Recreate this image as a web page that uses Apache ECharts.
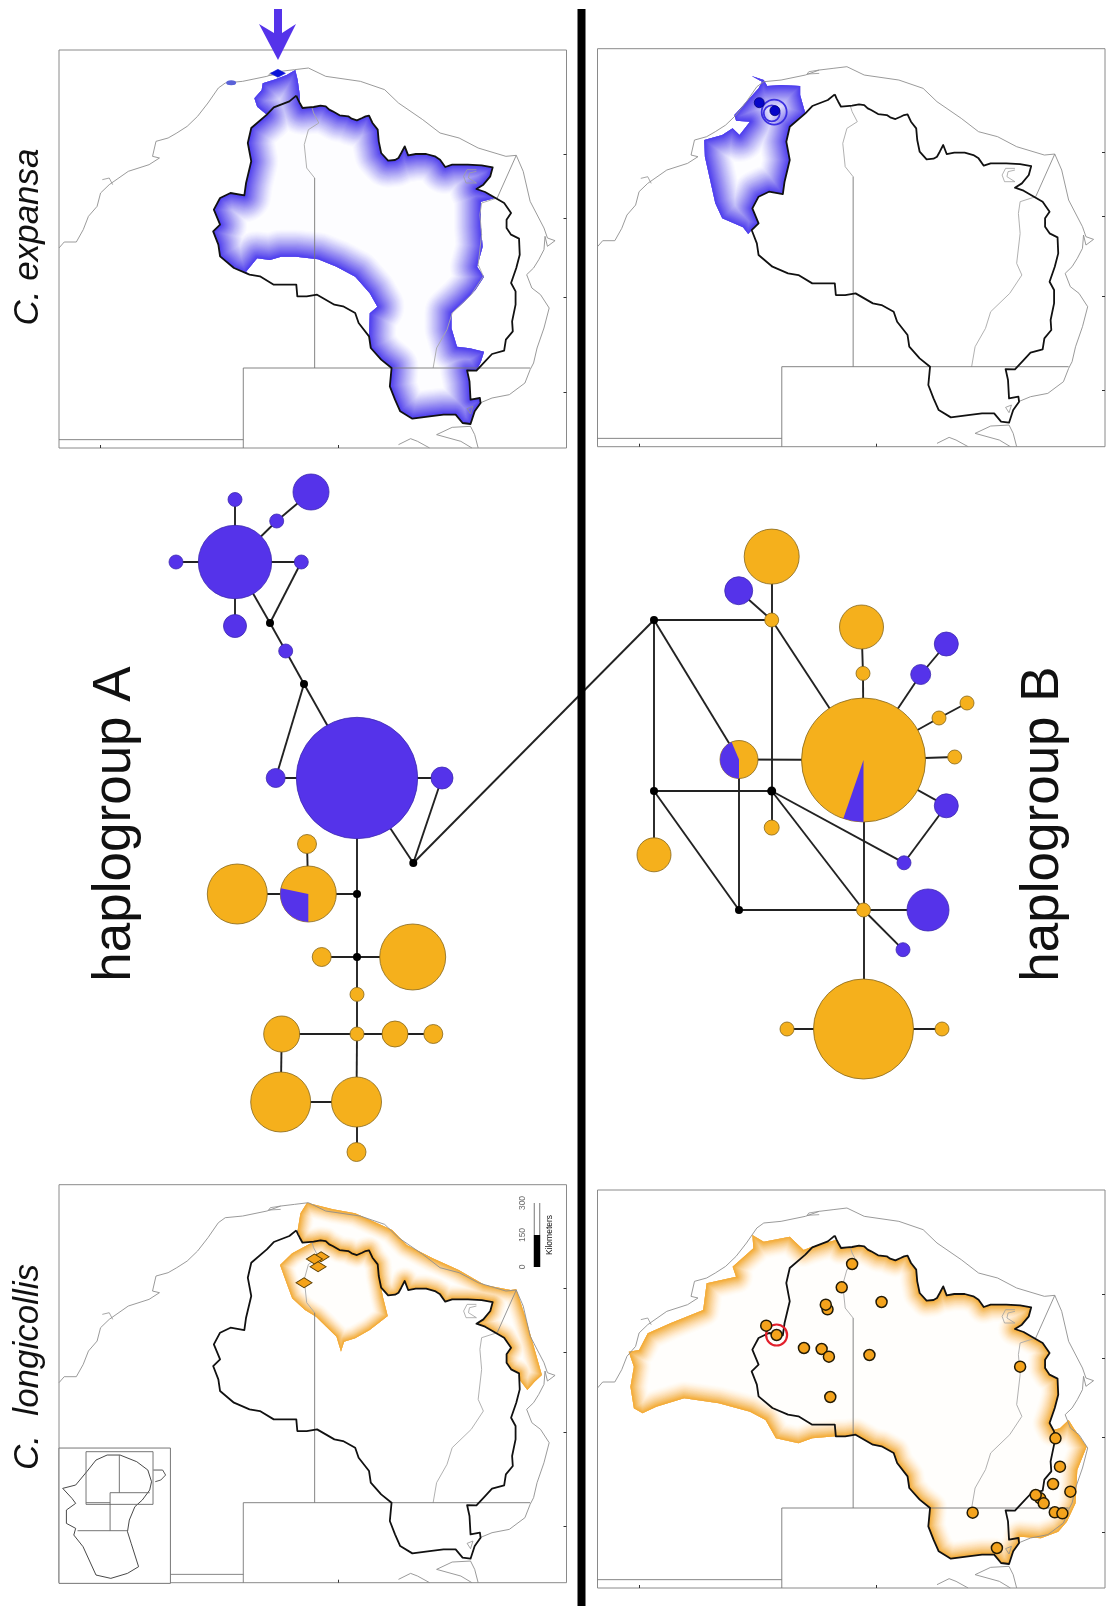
<!DOCTYPE html>
<html><head><meta charset="utf-8">
<script src="https://cdn.jsdelivr.net/npm/echarts@6/dist/echarts.min.js"></script>
<style>html,body{margin:0;padding:0;background:#fff}#c{width:1113px;height:1606px;filter:blur(0.5px)}</style>
</head><body><div id="c"></div>
<script>
// ---------- map geometry (map units) ----------
const basin=[[765,283],[770,295],[775,305],[783,320],[800,318],[815,317],[835,313],[850,315],[860,325],[870,330],[890,342],[915,345],[925,352],[940,357],[955,350],[965,345],[975,343],[985,365],[1000,385],[1003,420],[1010,455],[1030,478],[1050,476],[1060,470],[1068,455],[1078,435],[1088,462],[1110,458],[1140,458],[1165,465],[1180,475],[1195,497],[1215,490],[1260,490],[1300,492],[1332,498],[1325,525],[1305,550],[1285,563],[1310,572],[1340,590],[1365,605],[1385,635],[1372,655],[1372,680],[1385,700],[1408,712],[1410,760],[1400,800],[1385,845],[1398,870],[1398,910],[1388,960],[1390,990],[1370,1015],[1365,1048],[1330,1058],[1310,1080],[1285,1108],[1258,1107],[1265,1140],[1268,1195],[1295,1190],[1297,1205],[1280,1230],[1268,1268],[1245,1265],[1225,1240],[1190,1240],[1150,1245],[1100,1252],[1065,1230],[1050,1195],[1035,1155],[1040,1100],[1010,1075],[980,1040],[975,1005],[945,965],[935,935],[900,915],[875,910],[825,880],[795,885],[768,885],[765,850],[730,850],[700,850],[660,825],[630,820],[585,800],[545,765],[540,730],[525,690],[545,670],[527,625],[545,590],[575,575],[615,582],[620,545],[635,480],[625,425],[635,380],[680,340],[700,318],[745,300],[765,283]];
const coast=[[80,740],[95,722],[130,722],[150,685],[165,645],[190,615],[200,575],[225,550],[280,510],[340,490],[370,470],[350,465],[360,420],[395,410],[420,395],[450,375],[480,345],[510,305],[540,260],[560,245],[610,240],[680,225],[720,210],[760,205],[800,200],[850,225],[950,240],[1020,265],[1060,305],[1130,355],[1180,395],[1235,410],[1290,440],[1370,465],[1400,462],[1420,510],[1440,600],[1480,680],[1490,710],[1512,718],[1490,735],[1483,705],[1480,745],[1465,775],[1450,800],[1430,820],[1445,860],[1470,880],[1495,920],[1480,980],[1460,1040],[1450,1085],[1440,1105],[1425,1145],[1380,1180],[1330,1190],[1295,1205]];
const borderNT=[[818,1100],[818,530]];
const riverNT=[[818,530],[795,500],[788,430],[800,385],[830,365],[815,335],[810,318]];
const riverEast=[[1345,590],[1300,605],[1295,640],[1300,700],[1290,790],[1305,825],[1270,880],[1215,935],[1200,985],[1170,1040],[1160,1100]];
const borderQld=[[1345,590],[1400,462]];
const lake=[[1285,505],[1258,505],[1248,525],[1255,545],[1285,545],[1262,530],[1265,515],[1285,510]];
const boxSA=[[612,1340],[612,1100],[1440,1100]];
const boxWA=[[80,1315],[612,1315]];
const inletA=[[1060,1330],[1095,1312],[1115,1320],[1150,1340]];
const inletB=[[1290,1340],[1280,1300],[1268,1275],[1215,1278],[1170,1300],[1240,1320],[1272,1340]];
const bayVic=[[1258,1222],[1275,1215],[1268,1238],[1258,1222]];
const nearLake=[[720,210],[690,215],[685,222],[720,220]];
const isles=[[205,535],[225,530],[235,550]];
const rightTicks=[458,650,888,1172], bottomTicks=[200,885];

// ---------- ranges: free edges, shared edges follow the basin ----------
const along=(a,b)=>{const i=basin.findIndex(p=>p[0]===a[0]&&p[1]===a[1]),j=basin.findIndex(p=>p[0]===b[0]&&p[1]===b[1]);return basin.slice(i,j+1);};
const rangeTL=[[762,206],[769,236],[775,280],...along([775,305],[1340,590]),[1298,601],[1298,676],[1303,736],[1287,796],[1307,826],[1282,866],[1250,901],[1213,936],[1213,981],[1229,1036],[1266,1041],[1307,1051],[1298,1081],...along([1285,1108],[975,1005]),[977,936],[999,916],[977,876],[935,826],[881,796],[828,774],[764,766],[721,766],[689,776],[652,771],[620,811],...along([630,820],[680,340]),[652,316],[644,291],[665,266],[668,246],[705,234],[737,221]];
const rangeTR=[[525,228],[560,240],[570,258],[610,255],[665,258],[665,285],[680,340],[635,380],[625,425],[635,480],[620,545],[615,582],[575,575],[545,590],[527,625],[545,670],[525,690],[515,702],[500,682],[440,655],[420,610],[405,540],[390,470],[388,420],[440,405],[470,385],[490,405],[520,365],[480,362],[475,345],[510,305],[545,265],[555,245]];
const rangeBLcoast=[[796,200],[871,220],[935,232],[999,262],[1042,282],[1084,327],[1159,367],[1234,402],[1309,447],[1384,462],[1400,460],[1426,542],[1448,622],[1474,717],[1453,737],[1432,762],[1410,732],...along([775,305],[1408,712]).reverse(),[769,282],[777,232]];
const rangeBLinner=[...along([815,317],[1010,455]),[1015,482],[1029,540],[977,582],[935,607],[903,617],[894,647],[881,602],[822,542],[790,522],[753,487],[737,442],[718,387],[753,352]];
const rangeBR=[[527,281],[560,301],[635,286],[675,326],[695,318],...along([700,318],[765,283]),...along([770,295],[1385,845]),[1395,866],[1415,861],[1440,836],[1455,861],[1492,916],[1465,986],[1460,1086],[1435,1141],[1410,1171],[1360,1191],[1300,1186],...along([1297,1205],[768,885]),[700,891],[660,906],[595,891],[565,836],[520,811],[430,786],[330,771],[250,796],[210,816],[185,801],[175,736],[185,676],[170,631],[200,626],[225,576],[290,546],[385,506],[395,426],[480,406],[470,376],[530,321]];

// ---------- sample sites ----------
const sitesTLdiamond=[[712,216]];
const sitesTLpatch=[[577,244]];
const sitesTR=[[547,308],[592,332]];
const ringsTR=[[590,336,25],[583,340,16]];
const sitesBLdiamond=[[868,260],[850,267],[860,290],[822,338]];
const sitesBR=[[744,418],[739,404],[815,282],[785,352],[900,396],[567,467],[597,495],[676,534],[727,537],[748,560],[865,555],[1300,590],[752,681],[1402,805],[1415,890],[1395,942],[1445,965],[1358,985],[1345,975],[1368,1000],[1400,1027],[1422,1030],[1163,1028],[1233,1134]];
const ringBR=[[597,495]];

// ---------- inset map (BL panel) ----------
const insetFrame=[[160,834],[461,834],[461,1240],[160,1240]];
const insetCoast=[[170,955],[205,945],[235,905],[260,870],[290,855],[325,855],[370,875],[400,900],[410,935],[405,960],[385,990],[365,1010],[350,1050],[345,1085],[355,1120],[375,1190],[345,1210],[300,1225],[260,1215],[225,1130],[200,1095],[205,1075],[180,1060],[180,1020],[205,1000],[195,985],[170,955]];
const insetIsle=[[415,900],[440,900],[448,915],[435,930],[420,935]];
const insetBox=[[233,845],[414,845],[414,1003],[233,1003],[233,845]];
const insetBorders=[[[323,855],[323,968]],[[298,968],[405,968]],[[298,968],[298,1082]],[[210,1082],[345,1082]],[[233,998],[298,998]]];

// ---------- haplotype networks [id, x, y, radius, kind] ----------
const netNodes=[
 ['a1',235,562,36.7,'b'],['a2',235,499.5,7,'b'],['a3',311,492,18,'b'],['a4',276.7,521,7,'b'],['a5',301.3,562,7,'b'],['a6',176,562,7,'b'],['a7',235,626,11.5,'b'],['a8',270,623,4,'k'],['a9',285.7,651,7,'b'],['a10',304,684,4,'k'],['a11',357,778,60.7,'b'],['a12',275.7,778,9.5,'b'],['a13',442,778,11,'b'],['a14',413.3,863,4,'k'],
 ['a15',307,844,9.5,'o'],['a16',237.3,894,30,'o'],['a17',308.3,894,28,'o'],['a18',357,894,4,'k'],['a19',357,957,4,'k'],['a20',321.7,957,9.5,'o'],['a21',412.7,957,33,'o'],['a22',357,994.4,7,'o'],['a23',357,1034,7,'o'],['a24',281.7,1034,18,'o'],['a25',395,1034,13,'o'],['a26',433.3,1034,9.5,'o'],['a27',280.7,1102,30,'o'],['a28',356.5,1102,25,'o'],['a29',356.5,1152,9.5,'o'],
 ['b1',654,620,4,'k'],['b2',654,791,4,'k'],['b3',654,854.8,17,'o'],['b4',739,910,4,'k'],['b5',739,759.5,19,'o'],['b6',771.7,791,4.5,'k'],['b7',771.7,620,7,'o'],['b8',771.7,556.6,27.5,'o'],['b9',738.7,590.7,14,'b'],['b10',771.7,827.6,7.5,'o'],['b11',863.5,760,62,'o'],['b12',861.5,627,22,'o'],['b13',863,673.4,7,'o'],['b14',920.7,674.5,10,'b'],['b15',946.3,644,12,'b'],['b16',939,718,7,'o'],['b17',967,703,7,'o'],['b18',954.7,757,7,'o'],['b19',946.3,805.8,12,'b'],['b20',904,862.8,7,'b'],['b21',863.5,910,7,'o'],['b22',928,910,21,'b'],['b23',903,949.7,7,'b'],['b24',863.5,1029,50,'o'],['b25',787,1029,7,'o'],['b26',942,1029,7,'o']];
const netEdges=[['a1','a2'],['a1','a4'],['a4','a3'],['a1','a5'],['a1','a6'],['a1','a7'],['a1','a8'],['a8','a5'],['a8','a9'],['a9','a10'],['a10','a11'],['a10','a12'],['a11','a12'],['a11','a13'],['a11','a14'],['a13','a14'],['a14','b1'],['a11','a18'],['a18','a19'],['a19','a22'],['a22','a23'],['a23','a28'],['a28','a29'],['a17','a18'],['a17','a16'],['a17','a15'],['a19','a20'],['a19','a21'],['a23','a24'],['a23','a25'],['a25','a26'],['a24','a27'],['a27','a28'],
 ['b1','b7'],['b7','b8'],['b7','b9'],['b7','b11'],['b7','b6'],['b6','b10'],['b1','b2'],['b1','b5'],['b2','b6'],['b2','b3'],['b2','b4'],['b4','b5'],['b4','b21'],['b5','b11'],['b6','b21'],['b21','b23'],['b6','b20'],['b20','b19'],['b11','b19'],['b11','b13'],['b13','b12'],['b11','b14'],['b14','b15'],['b11','b16'],['b16','b17'],['b11','b18'],['b11','b21'],['b21','b24'],['b21','b22'],['b24','b25'],['b24','b26']];
// blue slices of the mixed haplotypes: [x, y, radius, startDeg, endDeg]
const pieSlices=[[308.3,894,28,90,192],[739,759.5,19,90,247],[863.5,760,62,90,109]];

const arrow=[[274,9],[282,9],[282,33],[296,24],[278,60],[259,24],[274,33]];
const divider=[[581.5,9],[581.5,1606]];
const scaleBlack=[[537,1267],[537,1235]], scaleWhite=[[537,1235],[537,1203]];
const scaleLabels=[['0',523,1267],['150',523,1235],['300',523,1203]];

const BLUE='#5533ea', ORANGE='#f5b01c';
const fromBL=p=>[80+(p[0]-160)*1.0685,p[1]+102], fromBR=p=>[p[0],p[1]+86];

const panels=[{l:59,t:50},{l:597.5,t:48.7},{l:59,t:1184.7},{l:597.5,t:1190}];
const grid=panels.map(p=>({left:p.l,top:p.t,width:507.5,height:398,show:true,borderColor:'#8a8a8a',borderWidth:1,backgroundColor:'#fff'}));
grid.push({left:0,top:0,width:1113,height:1606,show:false});
const xAxis=panels.map((p,i)=>({gridIndex:i,type:'value',min:80,max:1545,axisLine:{show:false},axisLabel:{show:false},splitLine:{show:false},
  axisTick:{show:true,inside:true,length:3,customValues:bottomTicks,lineStyle:{color:'#333'}}}));
const yAxis=panels.map((p,i)=>({gridIndex:i,type:'value',min:146,max:1340,inverse:true,position:'right',axisLine:{show:false},axisLabel:{show:false},splitLine:{show:false},
  axisTick:{show:true,inside:true,length:3,customValues:rightTicks,lineStyle:{color:'#333'}}}));
xAxis.push({gridIndex:4,type:'value',min:0,max:1113,show:false});
yAxis.push({gridIndex:4,type:'value',min:0,max:1606,inverse:true,show:false});

const series=[];
const line=(g,pts,color,w,z)=>series.push({type:'line',xAxisIndex:g,yAxisIndex:g,data:pts,showSymbol:false,symbol:'none',silent:true,animation:false,z:z||3,
  lineStyle:{color,width:w,cap:'butt',join:'round'}});
const ramp={b:{rgb:'72,56,238',top:0.95,pow:1.2,fill:'#fdfdff'},o:{rgb:'244,168,45',top:0.95,pow:1.6,fill:'#fffefc'}};
function range(g,pts,kind,depth){
  const R=ramp[kind];
  series.push({type:'custom',coordinateSystem:'cartesian2d',xAxisIndex:g,yAxisIndex:g,data:[pts[0]],silent:true,animation:false,z:2,
    renderItem(params,api){
      const poly=pts.map(p=>api.coord(p));
      const children=[{type:'polygon',shape:{points:poly},style:{fill:R.fill}}];
      const n=26; let prev=0;
      for(let k=1;k<=n;k++){
        const t=R.top*Math.pow(k/n,R.pow), a=1-(1-t)/(1-prev); prev=t;
        children.push({type:'polygon',shape:{points:poly},style:{fill:null,stroke:'rgba('+R.rgb+','+a.toFixed(4)+')',lineWidth:2*depth*(n-k+1)/n,lineJoin:'round'}});
      }
      return {type:'group',clipPath:{type:'polygon',shape:{points:poly}},children};
    }});
}
// distribution ranges
range(0,rangeTL,'b',27);
range(1,rangeTR,'b',27);
range(2,rangeBLcoast,'o',15);
range(2,rangeBLinner,'o',14);
range(3,rangeBR,'o',18);
// base map in each panel
panels.forEach((p,g)=>{
  line(g,coast,'#8f8f8f',0.9);
  line(g,lake,'#a0a0a0',0.8);
  line(g,inletA,'#8f8f8f',0.9);
  line(g,inletB,'#8f8f8f',0.9);
  line(g,bayVic,'#8f8f8f',0.8);
  line(g,nearLake,'#8f8f8f',0.8);
  line(g,isles,'#8f8f8f',0.8);
  line(g,riverNT,'#a8a8a8',0.9);
  line(g,riverEast,'#a8a8a8',0.9);
  line(g,borderQld,'#8a8a8a',0.9);
  line(g,borderNT,'#777',0.9);
  line(g,boxSA,'#777',0.9);
  line(g,boxWA,'#777',0.9);
  line(g,basin,'#111',1.8,4);
});
const dots=(g,pts,symbol,size,color,bc,bw,z)=>series.push({type:'scatter',xAxisIndex:g,yAxisIndex:g,data:pts,symbol,symbolSize:size,silent:true,animation:false,z:z||5,
  itemStyle:{color,borderColor:bc,borderWidth:bw,opacity:1}});
dots(0,sitesTLdiamond,'diamond',[15,8],'#0a12d8','#0a12d8',0.5);
dots(0,sitesTLpatch,'circle',[10,5],'#5a62d8','#5a62d8',0);
ringsTR.forEach(r=>dots(1,[[r[0],r[1]]],'circle',r[2],'rgba(0,0,0,0)','#3a2ee0',1.8));
dots(1,sitesTR,'circle',10,'#0606c8','#03037a',0.8,6);
dots(2,sitesBLdiamond.map(fromBL),'diamond',[16,10],'#f5a31a','#5a3d00',1);
dots(3,ringBR.map(fromBR),'circle',21,'rgba(0,0,0,0)','#e21f2b',2.2,5);
dots(3,sitesBR.map(fromBR),'circle',11,'#f4a31c','#221a05',1.5,6);
// inset
series.push({type:'custom',coordinateSystem:'cartesian2d',xAxisIndex:2,yAxisIndex:2,data:[fromBL(insetFrame[0])],silent:true,animation:false,z:7,
  renderItem(params,api){return {type:'polygon',shape:{points:insetFrame.map(p=>api.coord(fromBL(p)))},style:{fill:'#fff',stroke:'#777',lineWidth:1}};}});
const insetLine=(pts,c,w)=>series.push({type:'line',xAxisIndex:2,yAxisIndex:2,data:pts.map(fromBL),showSymbol:false,silent:true,animation:false,z:8,lineStyle:{color:c,width:w}});
insetLine(insetCoast,'#333',0.9);insetLine(insetIsle,'#444',0.9);insetLine(insetBox,'#666',0.9);
insetBorders.forEach(b=>insetLine(b,'#666',0.9));

// networks
const nodeStyle={b:{color:BLUE,borderColor:'#3d2ab0'},o:{color:ORANGE,borderColor:'#85661a'},k:{color:'#000',borderColor:'#000'}};
series.push({type:'graph',coordinateSystem:'cartesian2d',xAxisIndex:4,yAxisIndex:4,layout:'none',roam:false,silent:true,animation:false,z:10,
  data:netNodes.map(n=>({name:n[0],value:[n[1],n[2]],symbolSize:2*n[3],itemStyle:{...nodeStyle[n[4]],borderWidth:n[4]==='k'?0:0.8}})),
  links:netEdges.map(e=>({source:e[0],target:e[1]})),
  lineStyle:{color:'#222',width:1.9,opacity:1,curveness:0},label:{show:false},edgeSymbol:['none','none']});
series.push({type:'custom',coordinateSystem:'cartesian2d',xAxisIndex:4,yAxisIndex:4,data:pieSlices,silent:true,animation:false,z:11,
  encode:{x:0,y:1},
  renderItem(params,api){
    const c=api.coord([api.value(0),api.value(1)]);
    return {type:'sector',shape:{cx:c[0],cy:c[1],r0:0,r:api.value(2),startAngle:api.value(3)*Math.PI/180,endAngle:api.value(4)*Math.PI/180,clockwise:true},style:{fill:BLUE}};
  }});
// arrow, divider, scale bar
series.push({type:'custom',coordinateSystem:'cartesian2d',xAxisIndex:4,yAxisIndex:4,data:[arrow[0]],silent:true,animation:false,z:12,
  renderItem(params,api){return {type:'polygon',shape:{points:arrow.map(p=>api.coord(p))},style:{fill:BLUE}};}});
line(4,divider,'#000',8,13);
line(4,scaleBlack,'#000',6.5,9);
line(4,scaleWhite,'#777',6.5,9);
line(4,scaleWhite,'#fff',4.5,9);
series.push({type:'scatter',xAxisIndex:4,yAxisIndex:4,data:scaleLabels.map(s=>({value:[s[1],s[2]],label:{formatter:s[0]}})),symbolSize:0,silent:true,animation:false,z:9,
  label:{show:true,position:'inside',rotate:90,fontSize:8.5,color:'#444',fontFamily:'Liberation Sans'}});

const T=(x,y,text,size,italic)=>({type:'text',x,y,rotation:Math.PI/2,silent:true,z:20,
  style:{text,fontFamily:'Liberation Sans',fontSize:size,fontStyle:italic?'italic':'normal',fill:'#111',align:'center',verticalAlign:'middle'}});
const graphic=[T(28,237,'C. expansa',35,true),T(28,1367,'C.  longicollis',35,true),T(115,824,'haplogroup A',53,false),T(1043,824,'haplogroup B',53,false),T(550,1235,'Kilometers',8.5,false)];

const chart=echarts.init(document.getElementById('c'),null,{renderer:'canvas'});
chart.setOption({animation:false,backgroundColor:'#fff',grid,xAxis,yAxis,series,graphic});
</script></body></html>
